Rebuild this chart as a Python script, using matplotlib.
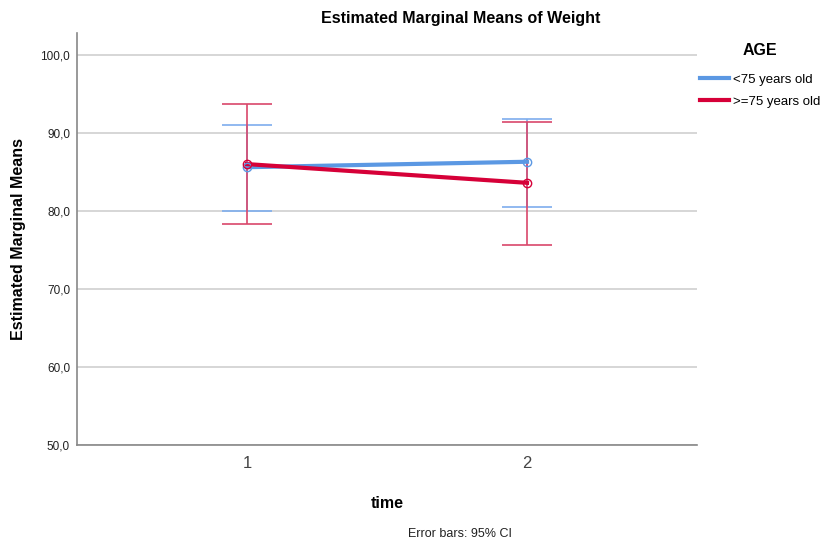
# Estimated marginal means of weight by time and age group, with 95% CI error bars

import matplotlib
matplotlib.use("Agg")
import matplotlib.pyplot as plt
from matplotlib.ticker import FuncFormatter
from matplotlib.lines import Line2D

plt.rcParams['font.family'] = ['Liberation Sans', 'DejaVu Sans']

# Data
time_points = [1, 2]
groups = ["<75 years old", ">=75 years old"]
means_young = [85.6, 86.3]
ci_low_young = [80.0, 80.5]
ci_high_young = [91.0, 91.8]
means_old = [86.0, 83.6]
ci_low_old = [78.3, 75.6]
ci_high_old = [93.7, 91.4]

line_colors = ["#5b98e3", "#d60038"]
bar_colors = ["#7eaded", "#d9476b"]

fig = plt.figure(figsize=(8.27, 5.40), dpi=100)
ax = fig.add_axes([0.0931, 0.1759, 0.7497, 0.763])

series = [
    (means_young, ci_low_young, ci_high_young),
    (means_old, ci_low_old, ci_high_old),
]
for (m, lo, hi), lc, bc in zip(series, line_colors, bar_colors):
    yerr = [[mi - l for mi, l in zip(m, lo)], [h - mi for mi, h in zip(m, hi)]]
    ax.errorbar(time_points, m, yerr=yerr, fmt='none', ecolor=bc, elinewidth=1.2,
                capsize=18, capthick=1.2, zorder=3)
    ax.plot(time_points, m, color=lc, linewidth=3, zorder=4)
    ax.plot(time_points, m, linestyle='none', marker='o', markersize=6,
            markerfacecolor='none', markeredgecolor=lc, markeredgewidth=1, zorder=5)

ax.set_xlim(0.393, 2.607)
ax.set_ylim(50, 102.8)
ax.set_yticks([50, 60, 70, 80, 90, 100])
ax.set_xticks(time_points)
ax.yaxis.set_major_formatter(FuncFormatter(lambda v, p: f"{v:.1f}".replace('.', ',')))
ax.grid(axis='y', color='#d0d0d0', linewidth=1.2)
ax.set_axisbelow(True)
ax.tick_params(axis='both', length=0)
ax.tick_params(axis='y', labelsize=8.5, colors='#222222', pad=5)
ax.tick_params(axis='x', labelsize=12, colors='#444444', pad=8)

for s in ['top', 'right']:
    ax.spines[s].set_visible(False)
for s in ['left', 'bottom']:
    ax.spines[s].set_color('#888888')
    ax.spines[s].set_linewidth(1.2)

fig.text(0.557, 1 - 18 / 540, "Estimated Marginal Means of Weight", fontsize=11.5,
         fontweight='bold', ha='center', va='center')
ax.set_ylabel("Estimated Marginal Means", fontsize=11.5, fontweight='bold', labelpad=10)
ax.set_xlabel("time", fontsize=11.5, fontweight='bold', labelpad=18)

fig.text(0.556, 6 / 540, "Error bars: 95% CI", fontsize=9, ha='center', va='center', color='#222222')

handles = [Line2D([0], [0], color=c, linewidth=3) for c in line_colors]
leg = fig.legend(handles, groups, title="AGE", loc='upper left',
                 bbox_to_anchor=(0.846, 1 - 43 / 540), frameon=False, fontsize=9.5,
                 handlelength=2.2, handletextpad=0.3, labelspacing=0.75,
                 borderaxespad=0, borderpad=0,
                 title_fontproperties={'weight': 'bold', 'size': 11.5})
leg._legend_box.sep = 11

fig.savefig("out.png", dpi=100)
